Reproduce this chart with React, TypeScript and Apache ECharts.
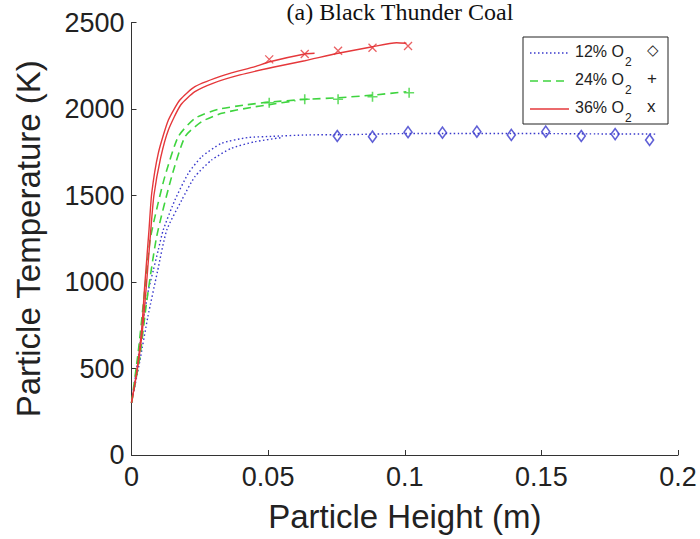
import React, { useEffect, useRef } from "react";
import * as echarts from "echarts";

// ---- data ----
const redUpperX = [0, 0.002, 0.0037, 0.0049, 0.0064, 0.0074, 0.0098, 0.0135, 0.0177, 0.0232, 0.0342, 0.0452, 0.0506, 0.0634, 0.067];
const redUpperY = [302, 491, 722, 992, 1300, 1513, 1744, 1936, 2052, 2129, 2197, 2245, 2273, 2318, 2322];
const redLowerX = [0, 0.002, 0.004, 0.0055, 0.007, 0.0082, 0.0107, 0.0135, 0.018, 0.0232, 0.03, 0.0397, 0.0518, 0.0634, 0.0756, 0.0882, 0.097, 0.1006];
const redLowerY = [302, 480, 720, 990, 1290, 1500, 1720, 1879, 2023, 2100, 2150, 2197, 2241, 2279, 2322, 2360, 2383, 2380];

const greenUpperX = [0, 0.0025, 0.0045, 0.0068, 0.0095, 0.0122, 0.0171, 0.0232, 0.0317, 0.0415, 0.0504, 0.0634, 0.0756, 0.0882, 0.1006];
const greenUpperY = [302, 600, 900, 1243, 1440, 1609, 1840, 1946, 1998, 2023, 2040, 2055, 2065, 2080, 2100];
const greenLowerX = [0, 0.003, 0.0055, 0.0092, 0.0147, 0.0196, 0.0257, 0.033, 0.044, 0.0504, 0.06];
const greenLowerY = [302, 560, 880, 1262, 1609, 1840, 1927, 1975, 2010, 2025, 2048];

const blueUpperX = [0, 0.0025, 0.0043, 0.0062, 0.008, 0.0098, 0.0116, 0.0159, 0.0208, 0.0257, 0.033, 0.0427, 0.0518, 0.064, 0.08, 0.1, 0.12, 0.15, 0.17, 0.192];
const blueUpperY = [302, 568, 780, 954, 1069, 1185, 1300, 1474, 1628, 1724, 1802, 1835, 1842, 1850, 1852, 1858, 1858, 1858, 1856, 1855];
const blueLowerX = [0, 0.003, 0.006, 0.0095, 0.0129, 0.0184, 0.0232, 0.0293, 0.0366, 0.0452, 0.055];
const blueLowerY = [302, 540, 800, 1060, 1300, 1474, 1609, 1705, 1773, 1811, 1835];

const redMarkX = [0.0504, 0.0634, 0.0756, 0.0882, 0.1012];
const redMarkY = [2287, 2318, 2337, 2354, 2364];
const greenMarkX = [0.0504, 0.0634, 0.0756, 0.0882, 0.1016];
const greenMarkY = [2036, 2056, 2056, 2071, 2094];
const blueMarkX = [0.0753, 0.0882, 0.1012, 0.1138, 0.1264, 0.139, 0.1516, 0.1646, 0.177, 0.1896];
const blueMarkY = [1844, 1840, 1866, 1863, 1869, 1850, 1869, 1844, 1855, 1821];

const legendLabels = ["12% O", "24% O", "36% O"];
const legendSymbols = ["\u25C7", "+", "x"];
const titleText = "(a) Black Thunder Coal";
const xName = "Particle Height (m)";
const yName = "Particle Temperature (K)";

const RED = "#e5383b";
const GREEN = "#3fd43f";
const BLUE = "#3838cc";

const zip = (xs: number[], ys: number[]) => xs.map((x, i) => [x, ys[i]]);

export default function App() {
  const ref = useRef<HTMLDivElement>(null);
  useEffect(() => {
    if (!ref.current) return;
    const chart = echarts.init(ref.current, null, { renderer: "svg" });
    const font = "Liberation Sans, Arial, Helvetica, sans-serif";
    const lineSeries = (name: string, xs: number[], ys: number[], color: string, type: any, width: number) => ({
      name,
      type: "line",
      data: zip(xs, ys),
      showSymbol: false,
      smooth: 0.2,
      lineStyle: { color, width, type },
      z: 2,
    });
    const markSeries = (name: string, xs: number[], ys: number[], color: string, symbol: string, size: any, bw: number) => ({
      name,
      type: "scatter",
      data: zip(xs, ys),
      symbol,
      symbolSize: size,
      itemStyle: { color: "rgba(0,0,0,0)", borderColor: color, borderWidth: bw },
      z: 3,
    });

    const lx = 523, ly = 37, lw = 145, lh = 87;
    const rowY = [53, 81, 109];
    const lineKinds = [
      { color: BLUE, lineDash: [1.5, 2.5] },
      { color: GREEN, lineDash: [8, 5] },
      { color: RED, lineDash: null },
    ];
    const legendChildren: any[] = [
      { type: "rect", shape: { x: lx, y: ly, width: lw, height: lh }, style: { fill: "#fff", stroke: "#222", lineWidth: 1 } },
    ];
    legendLabels.forEach((lab, i) => {
      const k = lineKinds[i];
      legendChildren.push({
        type: "line",
        shape: { x1: 530, y1: rowY[i], x2: 569, y2: rowY[i] },
        style: { stroke: k.color, lineWidth: 1.3, lineDash: k.lineDash },
      });
      legendChildren.push({
        type: "text",
        style: { text: lab, x: 575, y: rowY[i] - 2, fontSize: 16, fontFamily: font, fill: "#222", verticalAlign: "middle", align: "left" },
      });
      legendChildren.push({
        type: "text",
        style: { text: "2", x: 625, y: rowY[i] + 9, fontSize: 12, fontFamily: font, fill: "#222", verticalAlign: "middle", align: "left" },
      });
      legendChildren.push({
        type: "text",
        style: { text: legendSymbols[i], x: 647, y: rowY[i] - 3, fontSize: i === 0 ? 15 : 17, fontFamily: i === 0 ? "DejaVu Sans" : font, fill: "#222", verticalAlign: "middle", align: "left" },
      });
    });

    chart.setOption({
      animation: false,
      backgroundColor: "#fff",
      grid: { left: 131.5, right: 22, top: 22.5, bottom: 84, containLabel: false },
      xAxis: {
        type: "value",
        min: 0,
        max: 0.2,
        interval: 0.05,
        name: xName,
        nameLocation: "middle",
        nameGap: 45,
        nameTextStyle: { fontSize: 33, fontFamily: font, color: "#222" },
        axisLine: { show: true, lineStyle: { color: "#333", width: 1 } },
        axisTick: { show: true, inside: true, length: 5, lineStyle: { color: "#333" } },
        axisLabel: { fontSize: 27, fontFamily: font, color: "#222", margin: 8, formatter: (v: number) => String(+v.toFixed(2)) },
        splitLine: { show: false },
      },
      yAxis: {
        type: "value",
        min: 0,
        max: 2500,
        interval: 500,
        name: yName,
        nameLocation: "middle",
        nameGap: 87,
        nameTextStyle: { fontSize: 33, fontFamily: font, color: "#222" },
        axisLine: { show: true, lineStyle: { color: "#333", width: 1 } },
        axisTick: { show: true, inside: true, length: 5, lineStyle: { color: "#333" } },
        axisLabel: { fontSize: 27, fontFamily: font, color: "#222", margin: 7, formatter: (v: number) => String(v) },
        splitLine: { show: false },
      },
      series: [
        lineSeries("blue-a", blueUpperX, blueUpperY, BLUE, [1.5, 2.5], 1.4),
        lineSeries("blue-b", blueLowerX, blueLowerY, BLUE, [1.5, 2.5], 1.4),
        lineSeries("green-a", greenUpperX, greenUpperY, GREEN, [8, 5], 1.6),
        lineSeries("green-b", greenLowerX, greenLowerY, GREEN, [8, 5], 1.6),
        lineSeries("red-a", redUpperX, redUpperY, RED, "solid", 1.4),
        lineSeries("red-b", redLowerX, redLowerY, RED, "solid", 1.4),
        markSeries("12% O2", blueMarkX, blueMarkY, BLUE, "diamond", [8, 11], 1.6),
        markSeries("24% O2", greenMarkX, greenMarkY, GREEN, "path://M5,0L5,10M0,5L10,5", 10, 1.6),
        markSeries("36% O2", redMarkX, redMarkY, RED, "path://M0,0L10,10M10,0L0,10", 8, 1.3),
      ],
      graphic: [
        {
          type: "text",
          style: { text: titleText, x: 400, y: 0, fontSize: 24, fontFamily: "Liberation Serif, Times New Roman, serif", fill: "#111", align: "center", verticalAlign: "top" },
        },
        { type: "group", children: legendChildren },
      ],
    });
    return () => chart.dispose();
  }, []);
  return <div ref={ref} style={{ width: 700, height: 539, position: "absolute", left: 0, top: 0 }} />;
}
